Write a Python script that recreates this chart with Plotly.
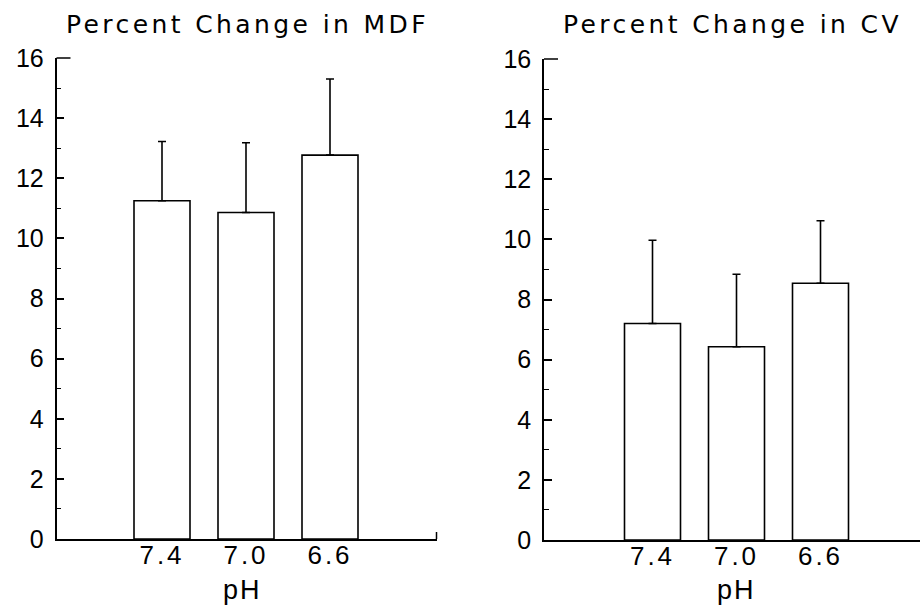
import plotly.graph_objects as go

ph_labels = ["7.4", "7.0", "6.6"]
mdf_change = [11.25, 10.86, 12.77]
mdf_err = [1.97, 2.32, 2.53]
cv_change = [7.20, 6.43, 8.54]
cv_err = [2.77, 2.41, 2.08]
y_ticks = [0, 2, 4, 6, 8, 10, 12, 14, 16]

FONT = "Liberation Sans"
TFONT = "DejaVu Sans"
W, H = 920, 606

fig = go.Figure()
for vals, errs, xa, ya in [(mdf_change, mdf_err, "x", "y"), (cv_change, cv_err, "x2", "y2")]:
    fig.add_trace(go.Bar(
        x=ph_labels, y=vals, xaxis=xa, yaxis=ya,
        marker=dict(color="white", line=dict(color="black", width=1.6)),
        error_y=dict(type="data", array=errs, symmetric=False, arrayminus=[0, 0, 0],
                     color="black", thickness=1.6, width=4),
        showlegend=False,
    ))

def px_x(p):
    return p / W

def px_y(p):
    return (H - p) / H

# panel geometry (pixels)
left_axis, left_right, left_c0 = 56.5, 437, 162
right_axis, right_right, right_c0 = 544, 920, 652.5
step = 84.0

sp = '<span style="letter-spacing:%spx">%s</span>'

yax = dict(range=[0, 16], tickvals=y_ticks, ticks="inside", ticklen=8, tickwidth=1.5,
           tickcolor="black", showline=True, linecolor="black", linewidth=1.6,
           showgrid=False, zeroline=False, automargin=False,
           minor=dict(dtick=1, ticks="inside", ticklen=5, tickwidth=1.3, tickcolor="black", showgrid=False),
           tickfont=dict(family=FONT, size=25, color="black"), ticklabelstandoff=6)
xax = dict(type="category", showline=True, linecolor="black", linewidth=1.6, ticks="",
           showgrid=False, zeroline=False, automargin=False,
           tickvals=ph_labels, ticktext=[sp % (3, t) for t in ph_labels],
           tickfont=dict(family=FONT, size=26, color="black"), ticklabelstandoff=-8)

fig.update_layout(
    width=W, height=H, margin=dict(l=0, r=0, t=0, b=0, autoexpand=False),
    paper_bgcolor="white", plot_bgcolor="white", bargap=1 - 56 / 84,
    xaxis=dict(xax, domain=[px_x(left_axis), px_x(left_right)],
               range=[(left_axis - left_c0) / step, (left_right - left_c0) / step], anchor="y"),
    yaxis=dict(yax, domain=[px_y(539), px_y(58)], anchor="x"),
    xaxis2=dict(xax, domain=[px_x(right_axis), 1.0],
                range=[(right_axis - right_c0) / step, (right_right - right_c0) / step], anchor="y2"),
    yaxis2=dict(yax, domain=[px_y(540), px_y(59)], anchor="x2"),
)

# small end tick on the left panel's x axis, and longer top ticks
fig.add_shape(type="line", xref="paper", yref="paper", x0=px_x(436.5), x1=px_x(436.5),
              y0=px_y(539), y1=px_y(532), line=dict(color="black", width=1.5))
for xa, ytop in [(left_axis, 58), (right_axis, 59)]:
    fig.add_shape(type="line", xref="paper", yref="paper", x0=px_x(xa), x1=px_x(xa + 14),
                  y0=px_y(ytop), y1=px_y(ytop), line=dict(color="black", width=1.5))

ann_font = dict(family=TFONT, size=25, color="black")
fig.add_annotation(text=sp % (3.4, "Percent Change in MDF"), x=px_x(247.5), y=px_y(24), xref="paper", yref="paper",
                   showarrow=False, font=ann_font, xanchor="center", yanchor="middle")
fig.add_annotation(text=sp % (3.4, "Percent Change in CV"), x=px_x(732.5), y=px_y(24), xref="paper", yref="paper",
                   showarrow=False, font=ann_font, xanchor="center", yanchor="middle")
fig.add_annotation(text=sp % (2, "pH"), x=px_x(243), y=px_y(590), xref="paper", yref="paper",
                   showarrow=False, font=dict(family=FONT, size=27, color="black"), xanchor="center", yanchor="middle")
fig.add_annotation(text=sp % (2, "pH"), x=px_x(736), y=px_y(590), xref="paper", yref="paper",
                   showarrow=False, font=dict(family=FONT, size=27, color="black"), xanchor="center", yanchor="middle")

fig.write_html("out.html")
